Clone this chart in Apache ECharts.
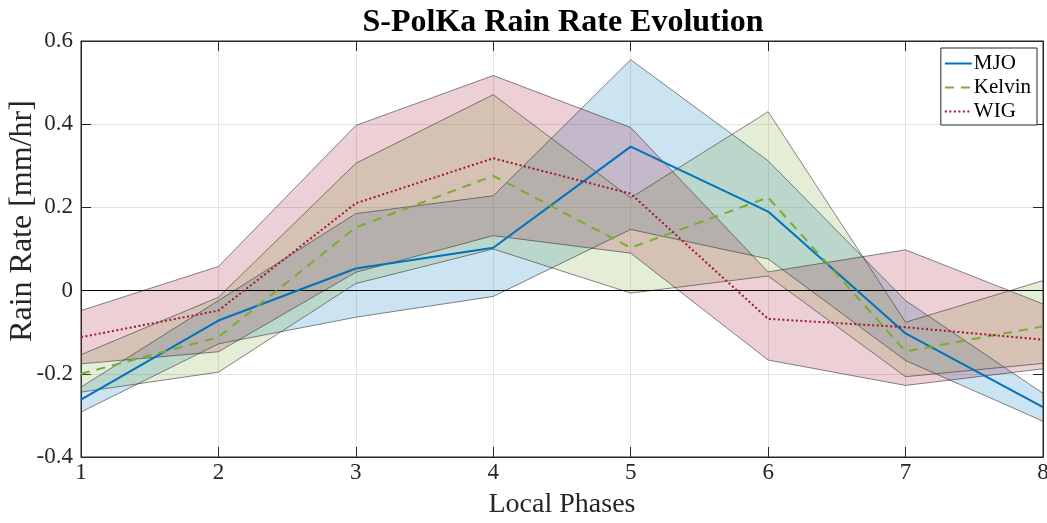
<!DOCTYPE html>
<html>
<head>
<meta charset="utf-8">
<script src="https://cdn.jsdelivr.net/npm/echarts@6/dist/echarts.min.js"></script>
<style>
  html, body { margin: 0; padding: 0; background: #fff; }
  #chart { width: 1047px; height: 523px; }
</style>
</head>
<body>
<div id="chart"></div>
<script>
// ---- data ----
const phases = [1, 2, 3, 4, 5, 6, 7, 8];
const seriesNames = ['MJO', 'Kelvin', 'WIG'];

const mjoMean   = [-0.262, -0.072, 0.053, 0.103, 0.346, 0.190, -0.103, -0.280];
const mjoUpper  = [-0.232, -0.024, 0.185, 0.228, 0.555, 0.312, -0.024, -0.247];
const mjoLower  = [-0.292, -0.128, -0.064, -0.014, 0.147, 0.076, -0.168, -0.314];

const kelvinMean  = [-0.200, -0.112, 0.152, 0.276, 0.103, 0.224, -0.146, -0.086];
const kelvinUpper = [-0.154, -0.016, 0.306, 0.471, 0.223, 0.430, -0.076, 0.024];
const kelvinLower = [-0.244, -0.196, 0.017, 0.100, -0.006, 0.035, -0.207, -0.175];

const wigMean  = [-0.112, -0.048, 0.210, 0.318, 0.233, -0.068, -0.088, -0.118];
const wigUpper = [-0.048, 0.058, 0.397, 0.517, 0.392, 0.045, 0.098, -0.032];
const wigLower = [-0.176, -0.147, 0.044, 0.132, 0.090, -0.167, -0.228, -0.188];

// ---- styling ----
const colors = { MJO: '#0072BD', Kelvin: '#77AC30', WIG: '#A2142F' };
const fills = {
  MJO: 'rgba(0,114,189,0.2)',
  Kelvin: 'rgba(119,172,48,0.2)',
  WIG: 'rgba(162,20,47,0.2)'
};
const edge = { color: 'rgba(50,50,50,0.65)', width: 0.9, type: 'solid' };
const font = '"Liberation Serif", "Times New Roman", serif';

function pairs(arr) { return phases.map((p, i) => [p, arr[i]]); }

function band(name, hi, lo) {
  return [
    {
      name: name + ' band', type: 'custom', silent: true, z: 1,
      data: phases.map((p, i) => [p, lo[i], hi[i]]),
      encode: { x: 0, y: [1, 2] },
      renderItem: function (params, api) {
        if (params.dataIndex !== 0) return null;
        const top = phases.map((p, i) => api.coord([p, hi[i]]));
        const bot = phases.map((p, i) => api.coord([p, lo[i]])).reverse();
        return {
          type: 'polygon',
          shape: { points: top.concat(bot) },
          style: { fill: fills[name], stroke: null }
        };
      }
    },
    {
      name: name + ' upper', type: 'line', data: pairs(hi), symbol: 'none',
      silent: true, z: 2, lineStyle: edge, emphasis: { disabled: true }
    },
    {
      name: name + ' lower', type: 'line', data: pairs(lo), symbol: 'none',
      silent: true, z: 2, lineStyle: edge, emphasis: { disabled: true }
    }
  ];
}

const series = [
  ...band('MJO', mjoUpper, mjoLower),
  ...band('Kelvin', kelvinUpper, kelvinLower),
  ...band('WIG', wigUpper, wigLower),
  {
    name: 'MJO', type: 'line', data: pairs(mjoMean), symbol: 'none', z: 5,
    lineStyle: { color: colors.MJO, width: 2 }, itemStyle: { color: colors.MJO },
    markLine: {
      symbol: 'none', silent: true, label: { show: false },
      lineStyle: { color: '#000', width: 1, type: 'solid' },
      data: [{ yAxis: 0 }]
    }
  },
  {
    name: 'Kelvin', type: 'line', data: pairs(kelvinMean), symbol: 'none', z: 5,
    lineStyle: { color: colors.Kelvin, width: 2, type: [9, 7] }, itemStyle: { color: colors.Kelvin }
  },
  {
    name: 'WIG', type: 'line', data: pairs(wigMean), symbol: 'none', z: 5,
    lineStyle: { color: colors.WIG, width: 2, type: [2, 2.5] }, itemStyle: { color: colors.WIG }
  }
];

const fmtY = v => parseFloat(Number(v).toFixed(1)).toString();

const axisLineStyle = { show: true, onZero: false, lineStyle: { color: '#262626' } };
const tickStyle = { show: true, inside: true, length: 10, lineStyle: { color: '#262626' } };

const option = {
  animation: false,
  backgroundColor: '#fff',
  title: {
    text: 'S-PolKa Rain Rate Evolution',
    left: 558, top: 2, textAlign: 'center',
    textStyle: { fontFamily: font, fontWeight: 'bold', fontSize: 32, color: '#000' }
  },
  legend: {
    data: seriesNames,
    orient: 'vertical', right: 10, top: 48,
    backgroundColor: '#fff', borderColor: '#262626', borderWidth: 1,
    padding: [5, 6, 3, 3], itemGap: 3,
    itemWidth: 27, itemHeight: 10,
    itemStyle: { opacity: 0 },
    textStyle: { fontFamily: font, fontSize: 21, color: '#000', padding: [0, 0, 0, -3] }
  },
  grid: {
    left: 81, right: 4, top: 41, bottom: 66,
    containLabel: false, outerBoundsMode: 'none',
    show: true, borderColor: '#262626', borderWidth: 1, backgroundColor: 'transparent'
  },
  xAxis: [
    {
      type: 'value', min: 1, max: 8, interval: 1, position: 'bottom',
      name: 'Local Phases', nameLocation: 'middle', nameGap: 34, nameMoveOverlap: false,
      nameTextStyle: { fontFamily: font, fontSize: 28, color: '#262626' },
      axisLine: axisLineStyle, axisTick: tickStyle,
      axisLabel: { fontFamily: font, fontSize: 23, color: '#262626', margin: 4 },
      splitLine: { show: true, lineStyle: { color: '#e3e3e3', width: 1 } }
    },
    {
      type: 'value', min: 1, max: 8, interval: 1, position: 'top',
      axisLine: axisLineStyle, axisTick: tickStyle,
      axisLabel: { show: false }, splitLine: { show: false }
    }
  ],
  yAxis: [
    {
      type: 'value', min: -0.4, max: 0.6, interval: 0.2, position: 'left',
      name: 'Rain Rate [mm/hr]', nameLocation: 'middle', nameGap: 42, nameMoveOverlap: false,
      nameTextStyle: { fontFamily: font, fontSize: 32, color: '#262626', padding: [0, 0, 0, 56] },
      axisLine: axisLineStyle, axisTick: tickStyle,
      axisLabel: { fontFamily: font, fontSize: 23, color: '#262626', margin: 8, formatter: fmtY },
      splitLine: { show: true, lineStyle: { color: '#e3e3e3', width: 1 } }
    },
    {
      type: 'value', min: -0.4, max: 0.6, interval: 0.2, position: 'right',
      axisLine: axisLineStyle, axisTick: tickStyle,
      axisLabel: { show: false }, splitLine: { show: false }
    }
  ],
  series: series
};

const chart = echarts.init(document.getElementById('chart'), null, { renderer: 'canvas' });
chart.setOption(option);
</script>
</body>
</html>
